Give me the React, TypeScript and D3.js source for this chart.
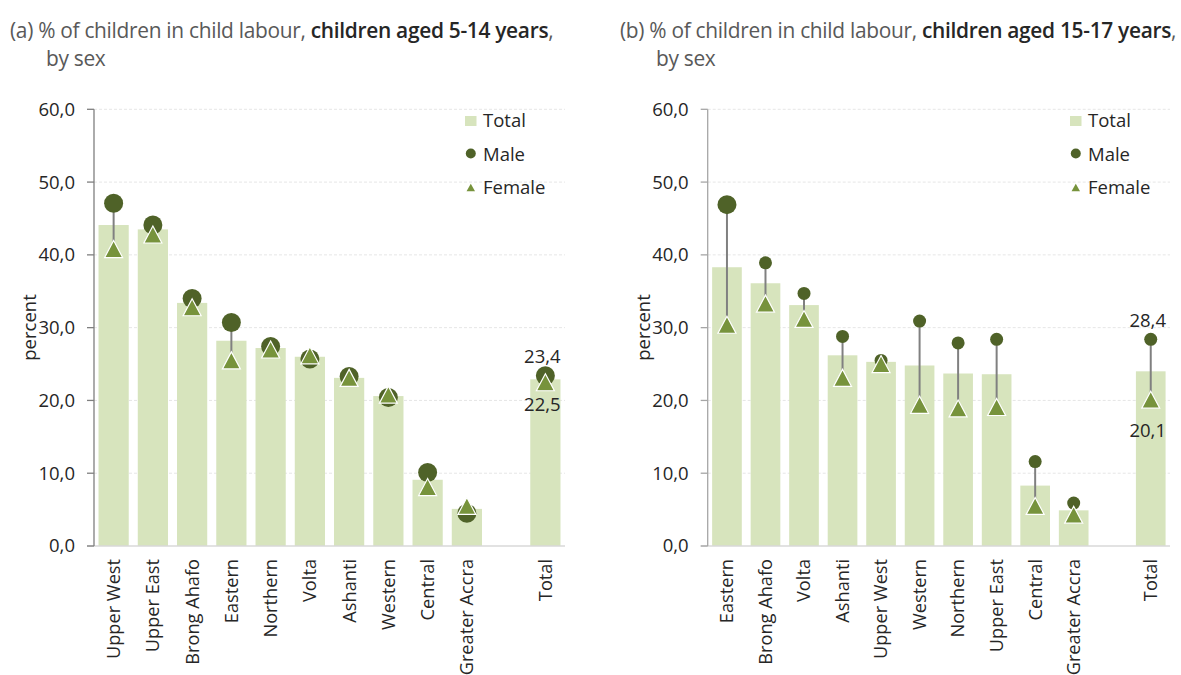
import React from 'react';
import * as d3 from 'd3';

// ---------- DATA ----------
const leftCategories = ['Upper West', 'Upper East', 'Brong Ahafo', 'Eastern', 'Northern', 'Volta', 'Ashanti', 'Western', 'Central', 'Greater Accra', 'Total'];
const leftTotal = [44.1, 43.5, 33.4, 28.2, 27.2, 26.0, 23.1, 20.6, 9.1, 5.1, 22.9];
const leftMale = [47.1, 44.1, 34.0, 30.7, 27.4, 25.7, 23.3, 20.4, 10.1, 4.5, 23.4];
const leftFemale = [40.8, 42.8, 32.8, 25.5, 27.0, 26.2, 23.1, 20.8, 8.1, 5.5, 22.5];

const rightCategories = ['Eastern', 'Brong Ahafo', 'Volta', 'Ashanti', 'Upper West', 'Western', 'Northern', 'Upper East', 'Central', 'Greater Accra', 'Total'];
const rightTotal = [38.3, 36.1, 33.1, 26.2, 25.3, 24.8, 23.7, 23.6, 8.3, 4.9, 24.0];
const rightMale = [46.9, 38.9, 34.7, 28.8, 25.5, 30.9, 27.9, 28.4, 11.6, 5.9, 28.4];
const rightFemale = [30.4, 33.3, 31.2, 23.1, 25.0, 19.4, 18.9, 19.1, 5.5, 4.3, 20.1];

const yTicks = [0, 10, 20, 30, 40, 50, 60];
const legendLabels = ['Total', 'Male', 'Female'];

// ---------- STYLE ----------
const FONT = '"Open Sans", Lato, sans-serif';
const C_BAR = '#d7e4bd';
const C_MALE = '#4f6228';
const C_FEMALE = '#77933c';
const C_TEXT = '#262626';
const C_TITLE = '#595959';
const FS_TICK = 18.5;
const FS_CAT = 18.2;
const FS_LEG = 18.5;
const FS_TITLE = 20.9;

const fmt = (v: number) => v.toFixed(1).replace('.', ',');

type PanelProps = {
  x0: number;
  x1: number;
  prefix: string;
  ageText: string;
  titleX: number;
  categories: string[];
  total: number[];
  male: number[];
  female: number[];
  maleR: (i: number) => number;
  axisColor: string;
  femaleLabelOffset: number;
  maleLabelOffset: number;
};

const triPath = (w: number, h: number) => `M0,${-h / 2}L${w / 2},${h / 2}L${-w / 2},${h / 2}Z`;

function Panel(p: PanelProps) {
  const yTop = 109.3;
  const yBottom = 546;
  const y = d3.scaleLinear().domain([0, 60]).range([yBottom, yTop]);
  const n = p.categories.length;
  const domain = [...p.categories.slice(0, n - 1), '__gap__', p.categories[n - 1]];
  const x = d3.scaleBand().domain(domain).range([p.x0, p.x1]).paddingInner(0.23).paddingOuter(0.115);
  const bw = x.bandwidth();
  const cx = (c: string) => (x(c) as number) + bw / 2;
  const lastIdx = n - 1;
  const legendX = p.x1 - 100;

  return (
    <g>
      {/* title */}
      <text x={p.titleX} y={38} fontFamily={FONT} fontSize={FS_TITLE} fill={C_TITLE} letterSpacing={-0.3}>
        <tspan>{p.prefix} % of children in child labour, </tspan>
        <tspan fontWeight={600} fill={C_TEXT}>{p.ageText}</tspan>
        <tspan>,</tspan>
      </text>
      <text x={p.titleX + 36} y={66} fontFamily={FONT} fontSize={FS_TITLE} fill={C_TITLE} letterSpacing={-0.3}>by sex</text>

      {/* gridlines */}
      {yTicks.filter(t => t > 0).map(t => (
        <line key={t} x1={p.x0} x2={p.x1} y1={y(t)} y2={y(t)} stroke="#e6e6e6" strokeWidth={1} strokeDasharray="3,2" />
      ))}

      {/* bars */}
      {p.categories.map((c, i) => (
        <rect key={c} x={x(c)} y={y(p.total[i])} width={bw} height={yBottom - y(p.total[i])} fill={C_BAR} />
      ))}

      {/* bottom axis */}
      <line x1={p.x0 - 7} x2={p.x1} y1={yBottom} y2={yBottom} stroke="#d9d9d9" strokeWidth={1.5} />
      {/* y axis */}
      <line x1={p.x0} x2={p.x0} y1={yTop} y2={yBottom} stroke={p.axisColor} strokeWidth={1.3} />
      {yTicks.map(t => (
        <g key={t}>
          <line x1={p.x0 - 7} x2={p.x0} y1={y(t)} y2={y(t)} stroke={p.axisColor} strokeWidth={1.3} />
          <text x={p.x0 - 19} y={y(t)} dy="0.35em" textAnchor="end" fontFamily={FONT} fontSize={FS_TICK} fill={C_TEXT}>{fmt(t)}</text>
        </g>
      ))}
      <text transform={`translate(${p.x0 - 64},${327.5}) rotate(-90)`} textAnchor="middle" dy="0.35em" fontFamily={FONT} fontSize={FS_TICK} fill={C_TEXT}>percent</text>

      {/* category labels */}
      {p.categories.map(c => (
        <text key={c} transform={`translate(${cx(c)},${559}) rotate(-90)`} textAnchor="end" dy="0.35em" fontFamily={FONT} fontSize={FS_CAT} fill={C_TEXT}>{c}</text>
      ))}

      {/* connectors */}
      {p.categories.map((c, i) => (
        <line key={c} x1={cx(c)} x2={cx(c)} y1={y(p.male[i])} y2={y(p.female[i])} stroke="#808080" strokeWidth={2} />
      ))}
      {/* male */}
      {p.categories.map((c, i) => (
        <circle key={c} cx={cx(c)} cy={y(p.male[i])} r={p.maleR(i)} fill={C_MALE} />
      ))}
      {/* female */}
      {p.categories.map((c, i) => (
        <path key={c} transform={`translate(${cx(c)},${y(p.female[i])})`} d={triPath(18, 17)} fill={C_FEMALE} stroke="#fff" strokeWidth={1.2} />
      ))}

      {/* data labels for total */}
      <text x={cx(p.categories[lastIdx]) - 3} y={y(p.male[lastIdx]) - p.maleLabelOffset} textAnchor="middle" fontFamily={FONT} fontSize={FS_TICK} fill={C_TEXT}>{fmt(p.male[lastIdx])}</text>
      <text x={cx(p.categories[lastIdx]) - 3} y={y(p.female[lastIdx]) + p.femaleLabelOffset} textAnchor="middle" fontFamily={FONT} fontSize={FS_TICK} fill={C_TEXT}>{fmt(p.female[lastIdx])}</text>

      {/* legend */}
      <g>
        <rect x={legendX} y={116} width={11.5} height={10} fill={C_BAR} />
        <text x={legendX + 18} y={126.5} fontFamily={FONT} fontSize={FS_LEG} fill={C_TEXT}>{legendLabels[0]}</text>
        <circle cx={legendX + 5.8} cy={153.5} r={5} fill={C_MALE} />
        <text x={legendX + 18} y={160.5} fontFamily={FONT} fontSize={FS_LEG} fill={C_TEXT}>{legendLabels[1]}</text>
        <path transform={`translate(${legendX + 5.8},${187.5})`} d={triPath(8.5, 7.5)} fill={C_FEMALE} />
        <text x={legendX + 18} y={194} fontFamily={FONT} fontSize={FS_LEG} fill={C_TEXT}>{legendLabels[2]}</text>
      </g>
    </g>
  );
}

export default function App() {
  return (
    <svg width={1181} height={675} style={{ position: 'absolute', left: 0, top: 0, display: 'block', background: '#fff' }}>
      <Panel
        x0={94}
        x1={565}
        prefix="(a)"
        ageText="children aged 5-14 years"
        titleX={10}
        categories={leftCategories}
        total={leftTotal}
        male={leftMale}
        female={leftFemale}
        maleR={() => 9.5}
        axisColor="#7f7f7f"
        maleLabelOffset={13}
        femaleLabelOffset={29}
      />
      <Panel
        x0={707.7}
        x1={1170}
        prefix="(b)"
        ageText="children aged 15-17 years"
        titleX={620}
        categories={rightCategories}
        total={rightTotal}
        male={rightMale}
        female={rightFemale}
        maleR={(i) => (i === 0 ? 9.5 : 6.5)}
        axisColor="#a6a6a6"
        maleLabelOffset={12.5}
        femaleLabelOffset={37}
      />
    </svg>
  );
}
